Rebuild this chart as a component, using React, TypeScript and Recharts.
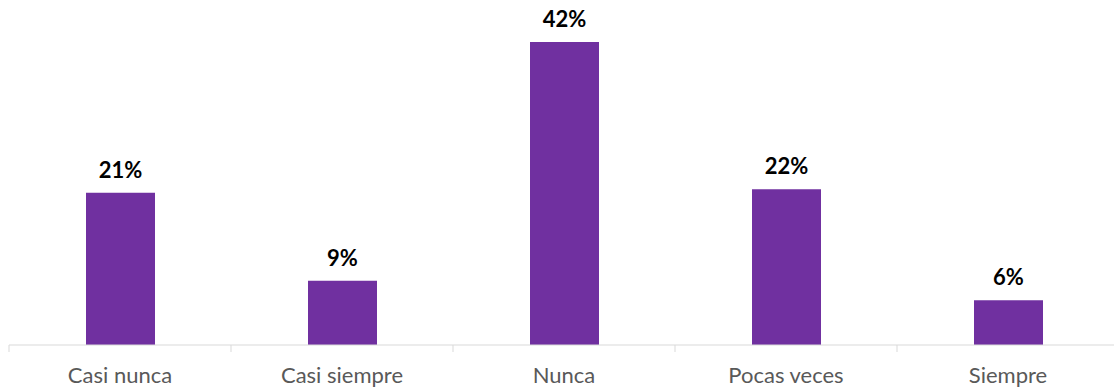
import { BarChart, Bar, XAxis, YAxis, LabelList } from 'recharts';

// frecuencia de respuesta
const categories = ['Casi nunca', 'Casi siempre', 'Nunca', 'Pocas veces', 'Siempre'];
const percentages = [21.1, 8.9, 42.0, 21.6, 6.2];

const data = categories.map((name, i) => ({ name, value: percentages[i] }));

const CHART_W = 1125;
const AXIS_H = 30;
const MARGIN = { top: 42, right: 6, left: 9, bottom: 16 };
const BAND = (CHART_W - MARGIN.left - MARGIN.right) / categories.length;

function AxisTick(props: any) {
  const { x, y, payload, index } = props;
  return (
    <g>
      <line x1={x - BAND / 2} y1={y} x2={x - BAND / 2} y2={y + 7} stroke="#D9D9D9" strokeWidth={1} />
      {index === categories.length - 1 && (
        <line x1={x + BAND / 2} y1={y} x2={x + BAND / 2} y2={y + 7} stroke="#D9D9D9" strokeWidth={1} />
      )}
      <text x={x} y={y + 38} textAnchor="middle" fill="#595959" fontSize={22} fontFamily="Lato, sans-serif">
        {payload.value}
      </text>
    </g>
  );
}

export default function App() {
  return (
    <div style={{ position: 'absolute', left: 0, top: 0, width: 1114, height: 391, overflow: 'hidden', background: '#fff' }}>
      <BarChart width={CHART_W} height={391} data={data} margin={MARGIN}>
        <XAxis
          dataKey="name"
          height={AXIS_H}
          axisLine={{ stroke: '#D9D9D9', strokeWidth: 1 }}
          tickLine={false}
          tickSize={0}
          tickMargin={0}
          interval={0}
          tick={<AxisTick />}
        />
        <YAxis hide domain={[0, 42]} />
        <Bar dataKey="value" fill="#7030A0" barSize={69} isAnimationActive={false}>
          <LabelList
            dataKey="value"
            position="top"
            offset={15}
            formatter={(v: any) => `${Math.round(Number(v))}%`}
            style={{ fill: '#000', fontSize: 22, fontWeight: 700, fontFamily: 'Lato, sans-serif' }}
          />
        </Bar>
      </BarChart>
    </div>
  );
}
